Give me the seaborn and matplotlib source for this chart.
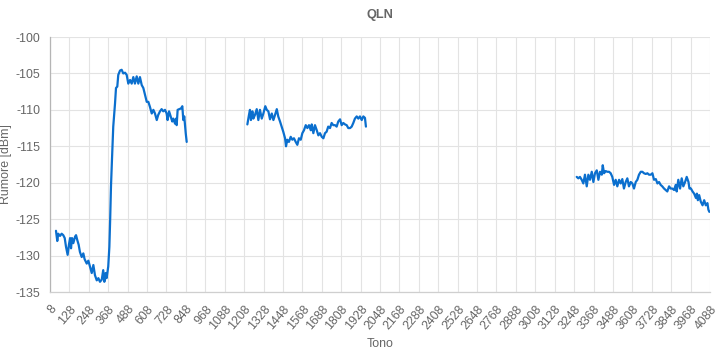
import numpy as np
import pandas as pd
import matplotlib
matplotlib.use("Agg")
import matplotlib.pyplot as plt
import seaborn as sns

# ---- data (tone, noise dBm) ----
seg1_tone = [45, 53, 59, 70, 80, 90, 99, 107, 117, 125, 132, 138, 144, 152, 163, 169, 177, 185,
             193, 204, 214, 222, 235, 245, 255, 266, 276, 286, 297, 307, 317, 328, 337, 344, 352,
             358, 368, 375, 380, 385, 391, 399, 410, 416, 424, 430, 441, 451, 461, 472, 482, 492,
             503, 513, 523, 533, 544, 554, 564, 575, 585, 595, 606, 616, 626, 637, 647, 657, 668,
             677, 688, 698, 708, 719, 729, 735, 744, 754, 764, 770, 781, 787, 791, 797, 807, 818,
             826, 832, 838, 847, 853]
seg1_val = [-126.6, -128.0, -127.0, -127.3, -127.0, -127.2, -127.6, -128.8, -129.9, -128.5, -127.6,
            -129.0, -127.6, -128.3, -127.4, -127.2, -127.9, -128.5, -129.5, -130.2, -129.7, -130.5,
            -131.1, -130.7, -131.5, -132.4, -131.3, -132.7, -133.4, -133.1, -133.6, -133.3, -132.0,
            -133.6, -132.4, -133.1, -131.5, -128.8, -125.0, -120.5, -116.9, -112.3, -109.1, -107.0,
            -106.8, -105.2, -104.6, -104.5, -105.0, -104.9, -105.2, -106.4, -105.9, -106.4, -105.5,
            -106.4, -105.4, -106.4, -105.5, -106.6, -107.0, -107.9, -108.9, -108.9, -109.6, -110.5,
            -110.0, -110.5, -111.4, -110.7, -110.2, -109.9, -110.2, -110.0, -110.5, -111.4, -110.2,
            -110.9, -111.6, -111.2, -111.9, -111.2, -112.1, -110.0, -109.9, -109.8, -109.5, -111.4,
            -110.9, -113.2, -114.4]

seg2_tone = [1228, 1238, 1244, 1250, 1259, 1265, 1275, 1286, 1296, 1306, 1317, 1327, 1339, 1348,
             1358, 1368, 1379, 1389, 1399, 1410, 1419, 1430, 1440, 1450, 1461, 1467, 1475, 1485,
             1496, 1506, 1516, 1527, 1537, 1547, 1558, 1568, 1578, 1589, 1599, 1609, 1620, 1626,
             1636, 1646, 1657, 1667, 1677, 1688, 1698, 1708, 1718, 1728, 1739, 1749, 1759, 1770,
             1780, 1790, 1801, 1811, 1821, 1832, 1842, 1852, 1863, 1873, 1883, 1893, 1904, 1914,
             1924, 1935, 1945, 1955, 1961]
seg2_val = [-112.0, -110.7, -110.0, -111.4, -110.2, -111.2, -110.7, -109.9, -111.4, -110.0, -111.2,
            -110.5, -109.5, -110.0, -110.2, -111.3, -110.5, -111.4, -110.7, -109.9, -110.9, -111.6,
            -112.3, -113.0, -113.9, -115.0, -114.1, -114.4, -113.7, -114.1, -113.9, -114.4, -114.8,
            -113.9, -114.1, -113.2, -112.8, -112.1, -112.5, -112.1, -112.8, -112.0, -113.2, -112.1,
            -112.8, -113.5, -113.2, -113.7, -113.9, -113.2, -113.0, -112.3, -112.5, -111.8, -112.1,
            -112.1, -112.3, -111.6, -111.3, -112.1, -111.8, -112.0, -112.1, -112.5, -112.5, -112.3,
            -111.8, -111.2, -110.9, -111.2, -110.9, -111.4, -110.9, -111.1, -112.3]

seg3_tone = [3264, 3274, 3284, 3295, 3305, 3315, 3326, 3336, 3346, 3357, 3367, 3377, 3388, 3398,
             3408, 3419, 3425, 3433, 3443, 3453, 3464, 3474, 3484, 3495, 3505, 3515, 3526, 3536,
             3546, 3556, 3567, 3577, 3587, 3598, 3608, 3618, 3629, 3639, 3649, 3660, 3670, 3680,
             3691, 3701, 3711, 3722, 3732, 3742, 3753, 3763, 3773, 3783, 3793, 3804, 3814, 3824,
             3835, 3845, 3855, 3866, 3876, 3882, 3892, 3903, 3913, 3923, 3934, 3944, 3955, 3961,
             3970, 3980, 3990, 4001, 4007, 4013, 4021, 4031, 4042, 4052, 4062, 4072, 4078, 4084]
seg3_val = [-119.2, -119.4, -119.2, -119.6, -120.1, -118.9, -120.5, -118.9, -119.6, -118.5, -119.9,
            -118.7, -118.3, -119.6, -118.5, -118.9, -117.6, -118.7, -118.4, -118.5, -118.5, -118.7,
            -119.2, -120.3, -119.6, -120.5, -119.6, -120.1, -119.5, -120.8, -119.9, -119.4, -120.5,
            -119.9, -120.1, -120.8, -119.9, -119.6, -118.9, -118.5, -118.5, -118.7, -118.8, -118.7,
            -118.9, -118.9, -118.7, -119.6, -119.5, -120.1, -119.9, -120.3, -120.5, -120.8, -121.0,
            -121.2, -120.5, -120.8, -120.8, -121.0, -120.3, -121.2, -119.6, -120.8, -119.4, -120.5,
            -119.9, -119.2, -119.9, -120.8, -120.8, -121.2, -121.5, -122.1, -121.5, -122.4, -121.7,
            -122.6, -123.1, -122.4, -123.1, -122.8, -123.7, -124.0]

x_ticks = list(range(8, 4089, 120))
y_ticks = [-135, -130, -125, -120, -115, -110, -105, -100]

df = pd.concat([
    pd.DataFrame({"Tono": seg1_tone, "QLN": seg1_val, "seg": 1}),
    pd.DataFrame({"Tono": seg2_tone, "QLN": seg2_val, "seg": 2}),
    pd.DataFrame({"Tono": seg3_tone, "QLN": seg3_val, "seg": 3}),
], ignore_index=True)

sns.set_theme(style="white")
plt.rcParams["font.family"] = ["Liberation Sans", "DejaVu Sans"]

fig = plt.figure(figsize=(7.2, 3.5), dpi=100)
ax = fig.add_axes([50 / 720, 1 - 292 / 350, 660 / 720, 255 / 350])

sns.lineplot(data=df, x="Tono", y="QLN", units="seg", estimator=None,
             color="#0b6fce", linewidth=1.6, ax=ax, sort=False)

ax.set_xlim(8, 4088)
ax.set_ylim(-135, -100)
ax.set_xticks(x_ticks)
ax.set_xticklabels([str(t) for t in x_ticks], rotation=50, ha="right",
                   rotation_mode="anchor", color="#666666", fontsize=8.9)
ax.set_yticks(y_ticks)
ax.set_yticklabels([str(t) for t in y_ticks], color="#666666", fontsize=8.9)

ax.grid(True, color="#e3e3e3", linewidth=0.8)
ax.set_axisbelow(True)
ax.tick_params(axis="x", length=7, color="#e3e3e3", width=0.8, pad=1)
ax.tick_params(axis="y", length=4, color="#e3e3e3", width=0.8, pad=3)
for s in ["top", "right"]:
    ax.spines[s].set_visible(False)
ax.spines["left"].set_color("#b5b5b5")
ax.spines["bottom"].set_color("#cfcfcf")
ax.spines["left"].set_linewidth(0.9)
ax.spines["bottom"].set_linewidth(0.9)

ax.set_xlabel("Tono", color="#666666", fontsize=8.9)
ax.set_ylabel("Rumore [dBm]", color="#666666", fontsize=8.9)
ax.yaxis.set_label_coords(-0.058, 0.5)
ax.xaxis.set_label_coords(0.5, -0.18)
ax.set_title("QLN", color="#666666", fontsize=9.2, fontweight="bold", pad=14)

fig.savefig("out.png", dpi=100)
